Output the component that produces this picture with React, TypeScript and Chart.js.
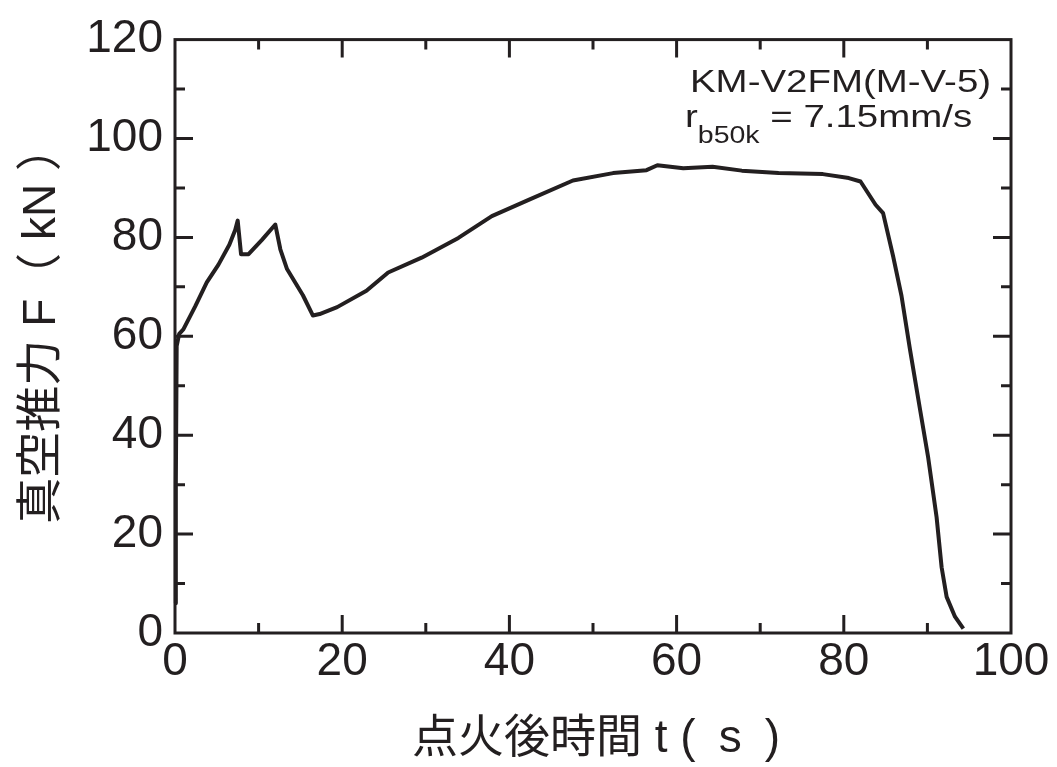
import React, { useEffect, useRef } from "react";
import { Chart, registerables } from "chart.js";

Chart.register(...registerables);

// Burn time (s) and vacuum thrust (kN)
const timeS = [
  0.05, 0.1, 0.2, 0.5, 1.0, 2.4, 3.8, 5.2, 6.5, 7.2, 7.5, 7.7, 7.9, 8.8, 10.4, 12.0,
  12.6, 13.4, 15.3, 16.5, 17.3, 19.4, 22.9, 25.5, 29.5, 33.9, 37.9, 42.3, 47.6, 52.4,
  56.4, 57.7, 60.8, 64.3, 67.8, 72.2, 77.5, 80.6, 82.0, 83.8, 84.7, 85.9, 86.9, 87.9,
  89.1, 90.1, 91.1, 91.7, 92.3, 93.3, 94.3,
];
const thrustKN = [
  6, 30, 58, 60.5, 61.4, 66, 70.9, 74.5, 78.5, 81.5, 83.4, 80, 76.6, 76.6, 79.5, 82.6,
  77.6, 73.6, 68.3, 64.2, 64.5, 65.9, 69.2, 72.9, 75.9, 79.9, 84.3, 87.6, 91.5, 93.0,
  93.6, 94.6, 94.0, 94.3, 93.5, 93.0, 92.8, 92.0, 91.3, 86.6, 84.9, 76.2, 68.2, 57.5,
  45.4, 35.4, 23.4, 13.3, 7.3, 3.3, 0.9,
];

const xMin = 0;
const xMax = 100;
const xStep = 20;
const yMin = 0;
const yMax = 120;
const yStep = 20;
const minorStep = 10;

const xTitle = "点火後時間 t (\u2002s\u2002)";
const yTitle = "真空推力 F（ kN ）";
const noteLine1 = "KM-V2FM(M-V-5)";
const noteR = "r";
const noteSub = "b50k";
const noteRest = " = 7.15mm/s";

const INK = "#231f20";
const LATIN = '"Liberation Sans", Arial, sans-serif';
const MIXED = '"Liberation Sans", "Noto Sans CJK JP", sans-serif';

const framePlugin = {
  id: "frameTicksTitles",
  afterDraw(chart: any) {
    const { ctx, chartArea: a, scales } = chart;
    const xs = scales.x;
    const ys = scales.y;
    ctx.save();
    ctx.strokeStyle = INK;
    ctx.lineCap = "butt";

    // frame
    ctx.lineWidth = 3;
    ctx.strokeRect(a.left, a.top, a.right - a.left, a.bottom - a.top);

    // inward ticks on all four sides
    ctx.lineWidth = 3;
    ctx.beginPath();
    for (let v = xMin + minorStep; v < xMax; v += minorStep) {
      const px = xs.getPixelForValue(v);
      const len = v % xStep === 0 ? 18 : 10;
      ctx.moveTo(px, a.bottom);
      ctx.lineTo(px, a.bottom - len);
      ctx.moveTo(px, a.top);
      ctx.lineTo(px, a.top + len);
    }
    for (let v = yMin + minorStep; v < yMax; v += minorStep) {
      const py = ys.getPixelForValue(v);
      const len = v % yStep === 0 ? 18 : 10;
      ctx.moveTo(a.left, py);
      ctx.lineTo(a.left + len, py);
      ctx.moveTo(a.right, py);
      ctx.lineTo(a.right - len, py);
    }
    ctx.stroke();

    // axis titles
    ctx.fillStyle = INK;
    ctx.font = `46px ${MIXED}`;
    ctx.textAlign = "center";
    ctx.textBaseline = "middle";
    ctx.fillText(xTitle, (a.left + a.right) / 2 + 3, 739);

    ctx.save();
    ctx.translate(42, (a.top + a.bottom) / 2 - 12);
    ctx.rotate(-Math.PI / 2);
    ctx.fillText(yTitle, 0, 0);
    ctx.restore();

    // annotation
    ctx.textAlign = "left";
    ctx.textBaseline = "alphabetic";
    const ax = xs.getPixelForValue(61.6);
    ctx.save();
    ctx.translate(ax, ys.getPixelForValue(109.4));
    ctx.scale(1.24, 1);
    ctx.font = `31px ${LATIN}`;
    ctx.fillText(noteLine1, 0, 0);
    ctx.restore();

    ctx.save();
    ctx.translate(ax - 5, ys.getPixelForValue(102.4));
    ctx.scale(1.24, 1);
    ctx.font = `31px ${LATIN}`;
    ctx.fillText(noteR, 0, 0);
    let w = ctx.measureText(noteR).width;
    ctx.font = `23px ${LATIN}`;
    ctx.fillText(noteSub, w, 16);
    w += ctx.measureText(noteSub).width;
    ctx.font = `31px ${LATIN}`;
    ctx.fillText(noteRest, w, 0);
    ctx.restore();

    ctx.restore();
  },
};

export default function App() {
  const canvasRef = useRef<HTMLCanvasElement | null>(null);

  useEffect(() => {
    if (!canvasRef.current) return;
    const data = timeS.map((t, i) => ({ x: t, y: thrustKN[i] }));
    const chart = new Chart(canvasRef.current, {
      type: "line",
      data: {
        datasets: [
          {
            label: "真空推力",
            data,
            borderColor: INK,
            backgroundColor: INK,
            borderWidth: 4,
            pointRadius: 0,
            tension: 0,
            borderJoinStyle: "round",
            clip: false,
          } as any,
        ],
      },
      options: {
        animation: false,
        responsive: true,
        maintainAspectRatio: false,
        layout: { padding: { top: 35, right: 46, bottom: 0, left: 0 } },
        plugins: {
          legend: { display: false },
          tooltip: { enabled: false },
        },
        scales: {
          x: {
            type: "linear",
            min: xMin,
            max: xMax,
            grid: { display: false, drawTicks: false },
            border: { display: false },
            ticks: {
              stepSize: xStep,
              padding: 2,
              maxRotation: 0,
              autoSkip: false,
              color: INK,
              font: { family: LATIN, size: 46 },
            },
            afterFit(scale: any) {
              scale.height = 134;
            },
          },
          y: {
            type: "linear",
            min: yMin,
            max: yMax,
            grid: { display: false, drawTicks: false },
            border: { display: false },
            ticks: {
              stepSize: yStep,
              padding: 12,
              color: INK,
              font: { family: LATIN, size: 46 },
            },
            afterFit(scale: any) {
              scale.width = 175;
            },
          },
        },
      },
      plugins: [framePlugin],
    });
    return () => chart.destroy();
  }, []);

  return (
    <div style={{ position: "absolute", left: 0, top: 0, width: 1057, height: 767, background: "#fff" }}>
      <canvas ref={canvasRef} />
    </div>
  );
}
